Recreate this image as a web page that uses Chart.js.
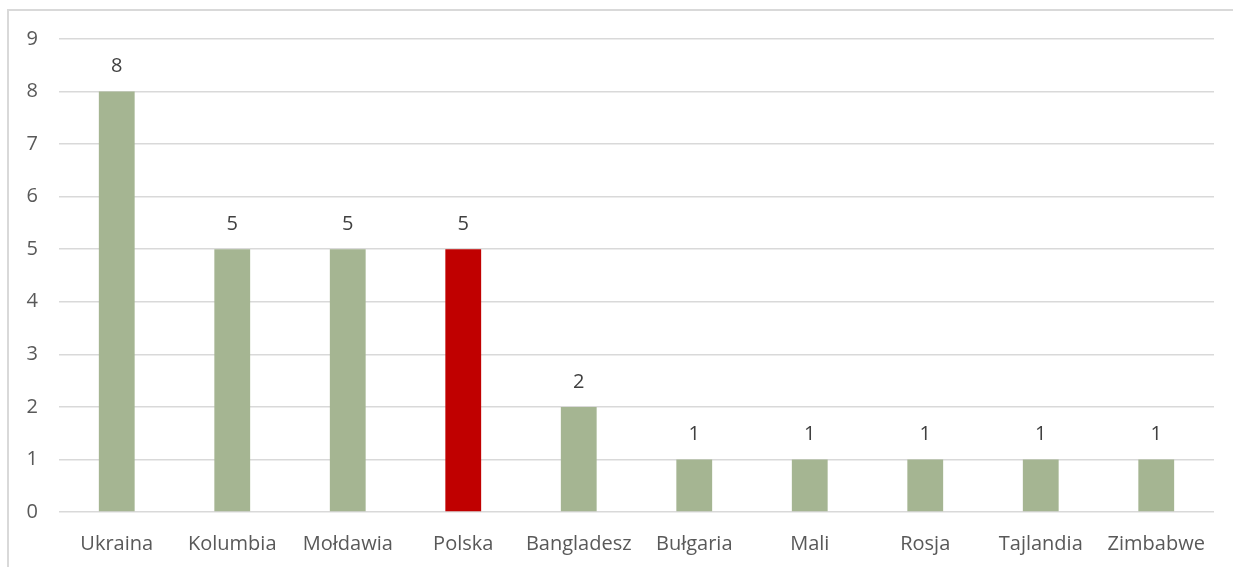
<!DOCTYPE html>
<html>
<head>
<meta charset="utf-8">
<script src="https://cdn.jsdelivr.net/npm/chart.js@4/dist/chart.umd.min.js"></script>
<style>
  html, body { margin: 0; padding: 0; background: #fff; overflow: hidden; }
  #frame { position: absolute; left: 7px; top: 9px; width: 1300px; height: 700px;
           border-left: 2px solid #d9d9d9; border-top: 2px solid #d9d9d9; }
  #wrap { position: absolute; left: 0; top: 0; width: 1233px; height: 567px; }
</style>
</head>
<body>
<div id="frame"></div>
<div id="wrap"><canvas id="myChart" width="1233" height="567"></canvas></div>
<script>
  // dane z wykresu
  var kraje = ['Ukraina', 'Kolumbia', 'Mołdawia', 'Polska', 'Bangladesz', 'Bułgaria', 'Mali', 'Rosja', 'Tajlandia', 'Zimbabwe'];
  var liczby = [8, 5, 5, 5, 2, 1, 1, 1, 1, 1];
  var wyroznione = 'Polska';

  var kolory = kraje.map(function (k) {
    return k === wyroznione ? '#c00000' : '#a5b592';
  });

  var fontFam = "'Open Sans', sans-serif";

  // etykiety wartosci nad slupkami
  var etykiety = {
    id: 'etykiety',
    afterDatasetsDraw: function (chart) {
      var ctx = chart.ctx;
      var meta = chart.getDatasetMeta(0);
      ctx.save();
      ctx.font = '20px ' + fontFam;
      ctx.fillStyle = '#404040';
      ctx.textAlign = 'center';
      ctx.textBaseline = 'middle';
      meta.data.forEach(function (bar, i) {
        ctx.fillText(String(liczby[i]), bar.x, bar.y - 25);
      });
      ctx.restore();
    }
  };

  var ctx = document.getElementById('myChart').getContext('2d');
  var chart = new Chart(ctx, {
    type: 'bar',
    data: {
      labels: kraje,
      datasets: [{
        data: liczby,
        backgroundColor: kolory,
        borderWidth: 0,
        barPercentage: 0.62,
        categoryPercentage: 0.5
      }]
    },
    options: {
      responsive: false,
      animation: false,
      layout: { padding: { top: 39, right: 19, left: 0, bottom: 0 } },
      plugins: {
        legend: { display: false },
        tooltip: { enabled: false }
      },
      scales: {
        x: {
          grid: { display: false, drawTicks: false },
          border: { display: false },
          ticks: { color: '#595959', font: { family: fontFam, size: 20 }, padding: 20, maxRotation: 0, autoSkip: false },
          afterFit: function (s) { s.height = 55; }
        },
        y: {
          min: 0,
          max: 9,
          grid: { color: '#d9d9d9', lineWidth: 1.5, drawTicks: false },
          border: { display: false },
          ticks: { stepSize: 1, color: '#595959', font: { family: fontFam, size: 20 }, padding: 21 },
          afterFit: function (s) { s.width = 59; }
        }
      }
    },
    plugins: [etykiety]
  });
</script>
</body>
</html>
